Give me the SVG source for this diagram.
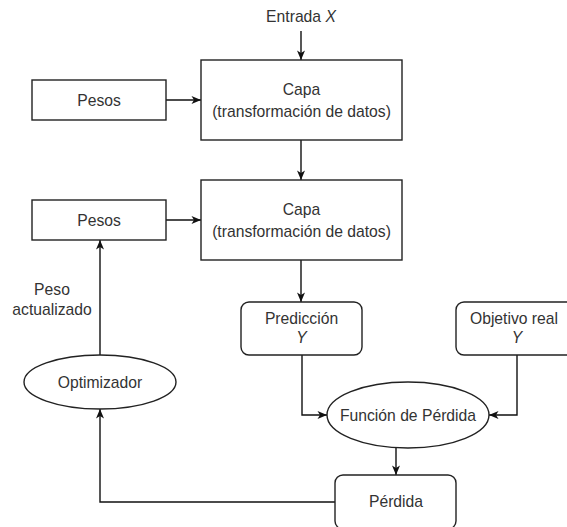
<svg xmlns="http://www.w3.org/2000/svg" width="567" height="527" viewBox="0 0 567 527">
<style>
.box{fill:#fff;stroke:#222;stroke-width:1.4}
.t{font-family:"Liberation Sans",Arial,sans-serif;font-size:15.7px;fill:#333;text-anchor:middle}
.i{font-style:italic}
.c{fill:none;stroke:#111;stroke-width:1.4}
</style>
<defs>
<marker id="ah" markerUnits="userSpaceOnUse" markerWidth="10" markerHeight="10" viewBox="0 0 10 10" refX="10" refY="5" orient="auto">
<path d="M0.5,1 L10,5 L0.5,9 L3,5 z" fill="#111"/>
</marker>
</defs>
<rect width="567" height="527" fill="#fff"/>
<g id="connectors">
<path class="c" d="M301,31 V60" marker-end="url(#ah)"/>
<path class="c" d="M166,100 H201" marker-end="url(#ah)"/>
<path class="c" d="M301,140 V180" marker-end="url(#ah)"/>
<path class="c" d="M166,220 H201" marker-end="url(#ah)"/>
<path class="c" d="M301,260 V302" marker-end="url(#ah)"/>
<path class="c" d="M302,355 V415 H327" marker-end="url(#ah)"/>
<path class="c" d="M517,355 V415 H489" marker-end="url(#ah)"/>
<path class="c" d="M396,448 V475" marker-end="url(#ah)"/>
<path class="c" d="M335,502 H100 V409" marker-end="url(#ah)"/>
<path class="c" d="M100,355 V240" marker-end="url(#ah)"/>
</g>
<g id="entrada"><text class="t" x="301" y="22">Entrada <tspan class="i">X</tspan></text></g>
<g id="capa1">
<rect class="box" x="201" y="60" width="201" height="80"/>
<text class="t" x="301.5" y="95">Capa</text>
<text class="t" x="301.5" y="116.5">(transformación de datos)</text>
</g>
<g id="pesos1">
<rect class="box" x="32" y="80" width="134" height="40"/>
<text class="t" x="99" y="105.5">Pesos</text>
</g>
<g id="capa2">
<rect class="box" x="201" y="180" width="201" height="80"/>
<text class="t" x="301.5" y="215">Capa</text>
<text class="t" x="301.5" y="236.5">(transformación de datos)</text>
</g>
<g id="pesos2">
<rect class="box" x="32" y="200" width="134" height="40"/>
<text class="t" x="99" y="225.5">Pesos</text>
</g>
<g id="peso-actualizado">
<text class="t" x="52" y="295">Peso</text>
<text class="t" x="52" y="315">actualizado</text>
</g>
<g id="prediccion">
<rect class="box" x="241" y="302" width="121" height="53" rx="8"/>
<text class="t" x="301.5" y="324">Predicción</text>
<text class="t i" x="301.5" y="343">Y</text>
</g>
<g id="objetivo">
<rect class="box" x="456" y="302" width="121" height="53" rx="8"/>
<text class="t" x="514" y="324">Objetivo real</text>
<text class="t i" x="517" y="343">Y</text>
</g>
<g id="optimizador">
<ellipse class="box" cx="100" cy="382" rx="76" ry="27"/>
<text class="t" x="100" y="387.5">Optimizador</text>
</g>
<g id="funcion">
<ellipse class="box" cx="408" cy="415" rx="81" ry="33"/>
<text class="t" x="408" y="420.5">Función de Pérdida</text>
</g>
<g id="perdida">
<rect class="box" x="335" y="475" width="121" height="54" rx="8"/>
<text class="t" x="396" y="507">Pérdida</text>
</g>
</svg>
